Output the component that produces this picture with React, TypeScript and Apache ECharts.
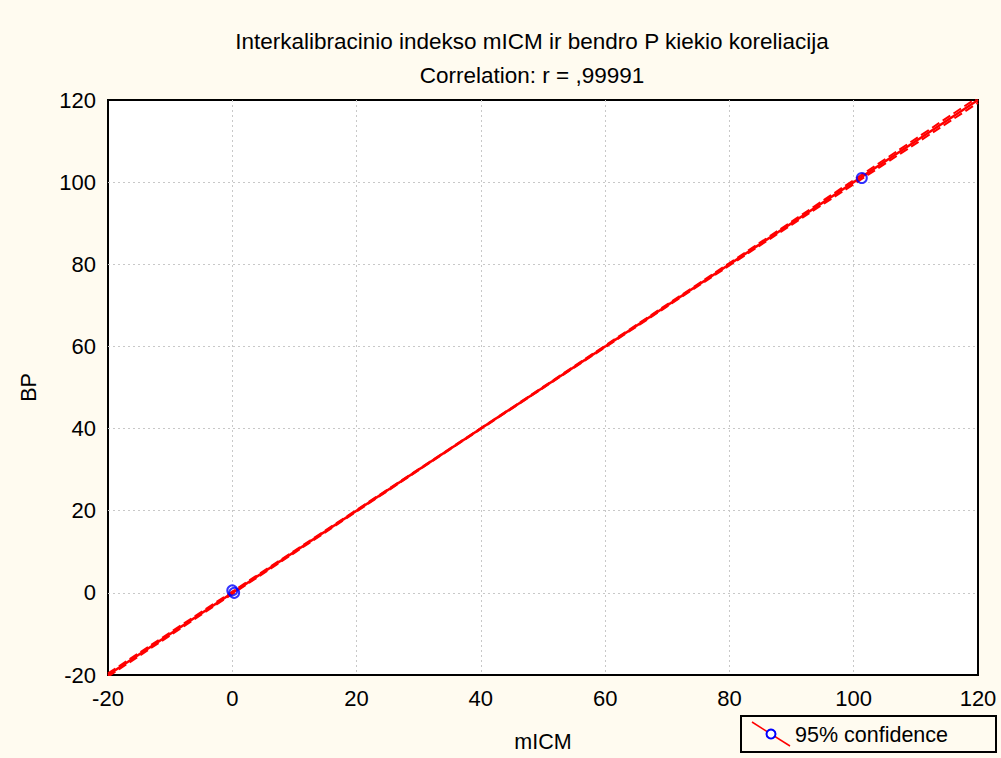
import React, { useEffect, useRef } from "react";
import * as echarts from "echarts";

const titleText = "Interkalibracinio indekso mICM ir bendro P kiekio koreliacija";
const subtitleText = "Correlation: r = ,99991";
const xName = "mICM";
const yName = "BP";
const legendLabel = "95% confidence";

const points: [number, number][] = [
  [0.0, 0.6],
  [0.3, 0.0],
  [101.3, 101.0],
];
const fitX = [-20, 120];
const fitY = [-20, 120];
const bandX = [-20, 0, 20, 40, 60, 80, 100, 120];
const bandUpper = [-19.6, 0.3, 20.2, 40.1, 60.2, 80.3, 100.5, 120.7];
const bandLower = [-20.4, -0.3, 19.8, 39.9, 59.8, 79.7, 99.5, 119.3];

export default function App() {
  const ref = useRef<HTMLDivElement>(null);
  useEffect(() => {
    if (!ref.current) return;
    const chart = echarts.init(ref.current, null, { renderer: "svg" });
    const font = "Liberation Sans, Arial, sans-serif";
    const gridLeft = 108, gridRight = 23, gridTop = 100, gridBottom = 82;
    const axisCommon = {
      type: "value" as const,
      min: -20,
      max: 120,
      interval: 20,
      axisLine: { show: false },
      axisTick: { show: false },
      splitLine: {
        show: true,
        showMinLine: false,
        showMaxLine: false,
        lineStyle: { color: "#c8c8c8", type: [2, 3], width: 1 },
      },
      nameTextStyle: { color: "#000", fontSize: 21.5, fontFamily: font },
      axisLabel: { color: "#000", fontSize: 22, fontFamily: font },
    };
    chart.setOption({
      animation: false,
      backgroundColor: "#fffbf0",
      title: [
        {
          text: titleText,
          left: 527,
          textAlign: "center",
          top: 25,
          textStyle: { fontSize: 22.5, fontWeight: "normal", color: "#000", fontFamily: font },
        },
        {
          text: subtitleText,
          left: 527,
          textAlign: "center",
          top: 59,
          textStyle: { fontSize: 22.5, fontWeight: "normal", color: "#000", fontFamily: font },
        },
      ],
      grid: {
        left: gridLeft,
        right: gridRight,
        top: gridTop,
        bottom: gridBottom,
        show: true,
        backgroundColor: "#fff",
        borderColor: "#000",
        borderWidth: 2,
      },
      xAxis: {
        ...axisCommon,
        name: xName,
        nameLocation: "middle",
        nameGap: 56,
        axisLabel: { ...axisCommon.axisLabel, margin: 12 },
      },
      yAxis: {
        ...axisCommon,
        name: yName,
        nameLocation: "middle",
        nameGap: 68,
        axisLabel: { ...axisCommon.axisLabel, margin: 12 },
      },
      series: [
        {
          type: "line",
          data: bandX.map((x, i) => [x, bandUpper[i]]),
          symbol: "none",
          smooth: true,
          lineStyle: { color: "#ff0000", width: 2, type: [9, 4] },
          z: 3,
        },
        {
          type: "line",
          data: bandX.map((x, i) => [x, bandLower[i]]),
          symbol: "none",
          smooth: true,
          lineStyle: { color: "#ff0000", width: 2, type: [9, 4] },
          z: 3,
        },
        {
          type: "line",
          data: fitX.map((x, i) => [x, fitY[i]]),
          symbol: "none",
          lineStyle: { color: "#ff0000", width: 2.5 },
          z: 4,
        },
        {
          type: "scatter",
          data: points,
          symbol: "circle",
          symbolSize: 10,
          itemStyle: { color: "transparent", borderColor: "#0000ff", borderWidth: 2 },
          z: 5,
        },
      ],
      graphic: [
        {
          type: "rect",
          shape: { x: 741, y: 716, width: 255, height: 36 },
          style: { fill: "#fffbf0", stroke: "#000", lineWidth: 2 },
        },
        {
          type: "line",
          shape: { x1: 752, y1: 722, x2: 790, y2: 746 },
          style: { stroke: "#ff0000", lineWidth: 1.5 },
        },
        {
          type: "circle",
          shape: { cx: 771, cy: 734, r: 4.5 },
          style: { fill: "#fff", stroke: "#0000ff", lineWidth: 2 },
        },
        {
          type: "text",
          x: 795,
          y: 735,
          style: {
            text: legendLabel,
            fill: "#000",
            fontSize: 21.5,
            fontFamily: font,
            verticalAlign: "middle",
          },
        },
      ],
    });
    return () => chart.dispose();
  }, []);
  return (
    <div
      ref={ref}
      style={{ position: "fixed", left: 0, top: 0, width: 1001, height: 758 }}
    />
  );
}
